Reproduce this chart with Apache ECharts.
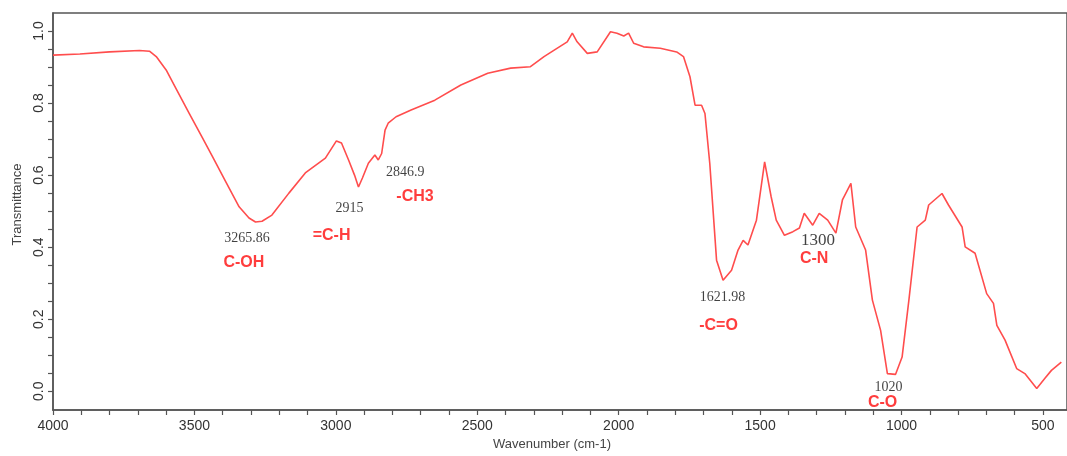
<!DOCTYPE html>
<html>
<head>
<meta charset="utf-8">
<script src="https://cdn.jsdelivr.net/npm/echarts@6/dist/echarts.min.js"></script>
<style>html,body{margin:0;padding:0;background:#fff}#c{width:1067px;height:456px}</style>
</head>
<body>
<div id="c"></div>
<script>
// Wavenumber (cm-1) and transmittance
const wavenumber = [4000,3905,3800,3694,3659,3635,3600,3565,3518,3472,3437,3389,3342,3307,3284,3261,3226,3166,3108,3037,2998,2980,2955,2934,2920,2906,2885,2862,2850,2838,2826,2815,2787,2734,2650,2558,2463,2382,2312,2264,2228,2182,2164,2147,2111,2076,2029,2006,1982,1965,1947,1912,1853,1795,1771,1748,1730,1707,1695,1678,1654,1631,1601,1578,1560,1543,1513,1484,1461,1443,1414,1384,1361,1344,1314,1291,1261,1232,1209,1179,1162,1127,1103,1074,1050,1021,998,974,945,916,904,857,834,786,775,740,699,675,663,634,593,564,522,493,470,435];
const transmittance = [0.933,0.936,0.942,0.946,0.944,0.929,0.892,0.840,0.771,0.704,0.653,0.581,0.512,0.481,0.470,0.472,0.489,0.550,0.606,0.647,0.695,0.689,0.642,0.600,0.567,0.592,0.633,0.656,0.642,0.660,0.725,0.744,0.762,0.781,0.808,0.850,0.883,0.897,0.901,0.929,0.947,0.970,0.994,0.970,0.938,0.942,0.998,0.994,0.986,0.994,0.966,0.956,0.952,0.942,0.929,0.873,0.794,0.794,0.771,0.633,0.364,0.308,0.336,0.392,0.419,0.406,0.475,0.637,0.540,0.475,0.433,0.443,0.453,0.494,0.461,0.494,0.475,0.439,0.531,0.577,0.456,0.392,0.253,0.169,0.049,0.047,0.095,0.253,0.456,0.475,0.517,0.549,0.517,0.456,0.401,0.383,0.271,0.244,0.183,0.142,0.063,0.049,0.008,0.036,0.058,0.081];

const xTickLabels = [4000,3500,3000,2500,2000,1500,1000,500];
const yTickLabels = [0.0,0.2,0.4,0.6,0.8,1.0];

// Peak annotations: value text and group text, anchored at [wavenumber, transmittance]
const peakValues = ['3265.86','2915','2846.9','1621.98','1300','1020'];
const peakValueAt = [[3314,0.425],[2952,0.508],[2755,0.608],[1633,0.261],[1295,0.419],[1046,0.011]];
const groupNames = ['C-OH','=C-H','-CH3','-C=O','C-N','C-O'];
const groupAt = [[3325,0.358],[3015,0.431],[2720,0.539],[1647,0.183],[1309,0.367],[1067,-0.031]];

const xMinorTicks = [];
for (let v = 500; v <= 4000; v += 100) xMinorTicks.push(v);
const yMinorTicks = [];
for (let i = 0; i <= 20; i++) yMinorTicks.push(+(i*0.05).toFixed(2));

const chart = echarts.init(document.getElementById('c'), null, {renderer:'canvas'});
const axisColor = '#555';
chart.setOption({
  animation: false,
  grid: {left: 53, top: 13, width: 1020, height: 397, show: true, borderColor: axisColor, borderWidth: 1.5, backgroundColor: 'transparent'},
  xAxis: {
    type: 'value', inverse: true, min: 415, max: 4000,
    name: 'Wavenumber (cm-1)', nameLocation: 'middle', nameGap: 23,
    nameTextStyle: {fontFamily: 'Liberation Sans', fontSize: 13, color: '#444', padding: [0, 16, 0, 0]},
    axisLine: {show: true, onZero: false, lineStyle: {color: axisColor, width: 1.5}},
    axisTick: {show: true, inside: false, length: 5, lineStyle: {color: axisColor, width: 1.2}, customValues: xMinorTicks},
    axisLabel: {customValues: xTickLabels, margin: 9, fontFamily: 'Liberation Sans', fontSize: 14, color: '#333',
      formatter: v => String(Math.round(v))},
    splitLine: {show: false}
  },
  yAxis: {
    type: 'value', min: -0.052, max: 1.05,
    name: 'Transmittance', nameLocation: 'middle', nameGap: 26,
    nameTextStyle: {fontFamily: 'Liberation Sans', fontSize: 13, color: '#444', padding: [0, 0, 0, 14]},
    axisLine: {show: true, onZero: false, lineStyle: {color: axisColor, width: 1.5}},
    axisTick: {show: true, inside: false, length: 5, lineStyle: {color: axisColor, width: 1.2}, customValues: yMinorTicks},
    axisLabel: {customValues: yTickLabels, rotate: 90, margin: 7, fontFamily: 'Liberation Sans', fontSize: 14, color: '#333',
      formatter: v => Number(v).toFixed(1)},
    splitLine: {show: false}
  },
  series: [
    {
      type: 'line', showSymbol: false, symbol: 'none', smooth: false,
      data: wavenumber.map((w, i) => [w, transmittance[i]]),
      lineStyle: {color: '#ff4d4d', width: 1.6},
      z: 2
    },
    {
      type: 'scatter', symbolSize: 0, z: 5,
      data: peakValues.map((t, i) => ({name: t, value: peakValueAt[i],
        label: {fontSize: t === '1300' ? 17 : 14}})),
      label: {show: true, position: 'inside', formatter: p => p.name,
        fontFamily: 'Liberation Serif', fontSize: 14, color: '#111'}
    },
    {
      type: 'scatter', symbolSize: 0, z: 5,
      data: groupNames.map((t, i) => ({name: t, value: groupAt[i]})),
      label: {show: true, position: 'inside', formatter: p => p.name,
        fontFamily: 'Liberation Sans', fontWeight: 'bold', fontSize: 16, color: '#ff0d0d'}
    }
  ]
});
</script>
</body>
</html>
